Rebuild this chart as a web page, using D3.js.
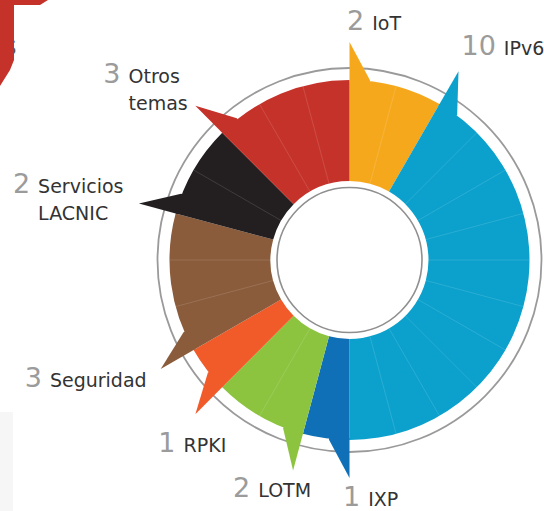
<!DOCTYPE html>
<html>
<head>
<meta charset="utf-8">
<script src="https://cdn.jsdelivr.net/npm/d3@7"></script>
<style>
  html, body { margin: 0; padding: 0; background: #fff; }
  svg { display: block; }
</style>
</head>
<body>
<svg id="chart" width="544" height="511"></svg>
<script>
// ---- data ----
const categories = ["IoT", "IPv6", "IXP", "LOTM", "RPKI", "Seguridad", "Servicios LACNIC", "Otros temas"];
const values = [2, 10, 1, 2, 1, 3, 2, 3];
const nameLines = [["IoT"], ["IPv6"], ["IXP"], ["LOTM"], ["RPKI"], ["Seguridad"], ["Servicios", "LACNIC"], ["Otros", "temas"]];
const colors = ["#F6A81D", "#0BA1CC", "#0F70B7", "#8CC43F", "#F15A29", "#8A5C3B", "#231F20", "#C5322A"];

// ---- layout ----
const W = 544, H = 511;
const cx = 349.5, cy = 260;
const innerR = 79, outerR = 180, ringR = 192, innerRingR = 72.5, tipR = 218;
const spikeWidth = 6.5 * Math.PI / 180;
// label offsets relative to spike tip (number start, baseline)
const labelOffsets = [[-2.5, -12], [3, -16], [-6.5, 28], [-60, 26], [-37, 38], [-136, 18], [-126, -10.6], [-92, -23]];

const svg = d3.select("#chart");

// decorative remnants at the page edges
svg.append("rect").attr("x", 0).attr("y", 412).attr("width", 13).attr("height", 99).attr("fill", "#f6f6f6");
svg.append("text").attr("x", 3).attr("y", 55).attr("font-family", "DejaVu Sans").attr("font-size", 26)
  .attr("fill", "#555").text("s");
svg.append("path").attr("d", "M0,0 L48,0 L40,5 L14,5 L14,60 L10,70 L0,86 Z").attr("fill", "#C5322A");

const g = svg.append("g").attr("transform", `translate(${cx},${cy})`);

const pie = d3.pie().sort(null).value(d => d).startAngle(0).endAngle(2 * Math.PI);
const arcs = pie(values);
const arc = d3.arc().innerRadius(innerR).outerRadius(outerR);

// outer ring
g.append("circle").attr("r", ringR).attr("fill", "none").attr("stroke", "#9a9a9a").attr("stroke-width", 1.8);

// segments
g.selectAll("path.seg").data(arcs).join("path")
  .attr("class", "seg")
  .attr("d", arc)
  .attr("fill", (d, i) => colors[i]);

// spikes
g.selectAll("path.spike").data(arcs).join("path")
  .attr("class", "spike")
  .attr("d", d => {
    const a = d.startAngle;
    const p0 = d3.pointRadial(a, outerR - 2);
    const p1 = d3.pointRadial(a, tipR);
    const p2 = d3.pointRadial(a + spikeWidth, outerR + 1);
    const p3 = d3.pointRadial(a + spikeWidth, outerR - 2);
    return `M${p0}L${p1}L${p2}L${p3}Z`;
  })
  .attr("fill", (d, i) => colors[i]);

// unit dividers inside each segment
const dividers = [];
arcs.forEach(d => {
  const step = (d.endAngle - d.startAngle) / d.value;
  for (let k = 1; k < d.value; k++) dividers.push(d.startAngle + k * step);
});
g.selectAll("line.div").data(dividers).join("line")
  .attr("class", "div")
  .attr("x1", a => d3.pointRadial(a, innerR)[0]).attr("y1", a => d3.pointRadial(a, innerR)[1])
  .attr("x2", a => d3.pointRadial(a, outerR)[0]).attr("y2", a => d3.pointRadial(a, outerR)[1])
  .attr("stroke", "#ffffff").attr("stroke-opacity", 0.13).attr("stroke-width", 1);

// inner ring
g.append("circle").attr("r", innerRingR).attr("fill", "none").attr("stroke", "#8f8f8f").attr("stroke-width", 1.6);

// labels
arcs.forEach((d, i) => {
  const tip = d3.pointRadial(d.startAngle, tipR);
  const x = cx + tip[0] + labelOffsets[i][0];
  const y = cy + tip[1] + labelOffsets[i][1];
  const num = svg.append("text")
    .attr("x", x).attr("y", y)
    .attr("font-family", "DejaVu Sans").attr("font-size", 27)
    .attr("fill", "#9b9b9b")
    .text(values[i]);
  const w = num.node().getComputedTextLength();
  const nameX = x + w + 8;
  nameLines[i].forEach((line, j) => {
    svg.append("text")
      .attr("x", nameX).attr("y", y + j * 27)
      .attr("font-family", "DejaVu Sans").attr("font-size", 19)
      .attr("fill", "#333333")
      .text(line);
  });
});
</script>
</body>
</html>
